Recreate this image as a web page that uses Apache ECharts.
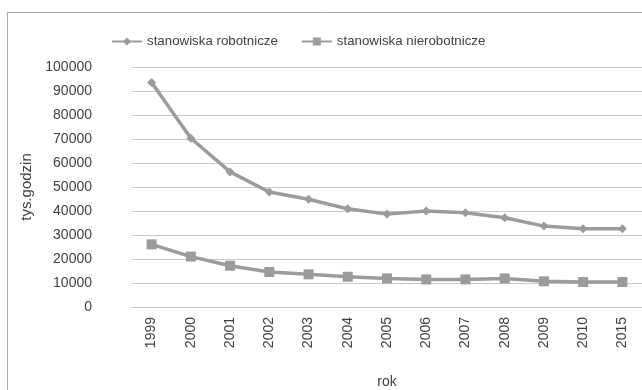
<!DOCTYPE html>
<html>
<head>
<meta charset="utf-8">
<script src="https://cdn.jsdelivr.net/npm/echarts@6/dist/echarts.min.js"></script>
<style>
  html, body { margin: 0; padding: 0; background: #fff; }
  #chart { width: 642px; height: 390px; }
</style>
</head>
<body>
<div id="chart"></div>
<script>
const years = ['1999', '2000', '2001', '2002', '2003', '2004', '2005', '2006', '2007', '2008', '2009', '2010', '2015'];
const robotnicze = [93500, 70300, 56300, 47900, 44900, 40900, 38700, 40000, 39300, 37200, 33700, 32600, 32600];
const nierobotnicze = [26100, 21000, 17200, 14600, 13600, 12600, 11900, 11500, 11500, 11900, 10700, 10400, 10400];
const seriesNames = ['stanowiska robotnicze', 'stanowiska nierobotnicze'];

const FONT = 'Liberation Sans';
const GREY = '#9b9b9b';
const TEXT = '#404040';

const chart = echarts.init(document.getElementById('chart'));
chart.setOption({
  animation: false,
  textStyle: { fontFamily: FONT },
  graphic: [{
    type: 'rect',
    shape: { x: 7.5, y: 12.5, width: 700, height: 400 },
    style: { fill: 'none', stroke: '#a8a8a8', lineWidth: 1 }
  }],
  legend: {
    top: 30,
    left: 106,
    itemWidth: 30,
    itemHeight: 10,
    itemGap: 23,
    textStyle: { fontFamily: FONT, fontSize: 13.3, color: TEXT },
    data: seriesNames
  },
  grid: { left: 132, right: 0, top: 67, bottom: 83, containLabel: false, outerBoundsMode: 'none' },
  xAxis: {
    type: 'category',
    data: years,
    boundaryGap: true,
    name: 'rok',
    nameLocation: 'middle',
    nameGap: 68,
    nameTextStyle: { fontFamily: FONT, fontSize: 14, color: TEXT },
    axisLine: { lineStyle: { color: '#c8c8c8' } },
    axisTick: { show: false },
    axisLabel: { rotate: 90, fontFamily: FONT, fontSize: 14, color: TEXT, margin: 10 }
  },
  yAxis: {
    type: 'value',
    min: 0,
    max: 100000,
    interval: 10000,
    name: 'tys.godzin',
    nameLocation: 'middle',
    nameRotate: 90,
    nameGap: 72,
    nameTextStyle: { fontFamily: FONT, fontSize: 15, color: TEXT },
    axisLine: { show: false },
    axisTick: { show: false },
    splitLine: { lineStyle: { color: '#c8c8c8', width: 1 } },
    axisLabel: { fontFamily: FONT, fontSize: 14, color: TEXT, margin: 40, align: 'right', formatter: v => String(v) }
  },
  series: [
    {
      name: seriesNames[0],
      type: 'line',
      data: robotnicze,
      symbol: 'diamond',
      symbolSize: 9,
      lineStyle: { color: GREY, width: 3.5 },
      itemStyle: { color: GREY }
    },
    {
      name: seriesNames[1],
      type: 'line',
      data: nierobotnicze,
      symbol: 'rect',
      symbolSize: 10,
      lineStyle: { color: GREY, width: 3.5 },
      itemStyle: { color: GREY }
    }
  ]
});
</script>
</body>
</html>
